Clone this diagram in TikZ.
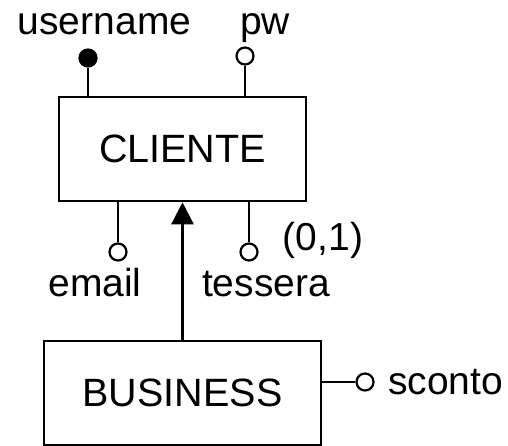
\documentclass[tikz,border=0pt]{standalone}
\usepackage{fontspec}
\setmainfont{Liberation Sans}
\usetikzlibrary{arrows.meta}
\begin{document}
\begin{tikzpicture}[x=1pt,y=-1pt,line width=2.6pt,
  entity/.style={draw,rectangle,minimum height=104pt,inner sep=0pt,font=\fontsize{39.5}{46}\selectfont},
  keyattr/.style={circle,draw,fill=black,minimum size=17pt,inner sep=0pt,line width=2.2pt},
  optattr/.style={circle,draw,fill=white,minimum size=17pt,inner sep=0pt,line width=2.2pt},
  lbl/.style={anchor=base,inner sep=0pt,font=\fontsize{39}{46}\selectfont}]
\useasboundingbox (0,0) rectangle (508,446);

% entities
\node[entity,minimum width=247pt] (C) at (182.5,149) {CLIENTE};
\node[entity,minimum width=277pt] (B) at (182.5,393) {BUSINESS};

% generalisation arrow
\draw[-{Triangle[length=22pt,width=22pt]}] (B.north) -- (C.south);

% attributes of CLIENTE
\node[keyattr] (ucirc) at (88,58) {};
\node[optattr] (pcirc) at (245,56) {};
\node[optattr] (ecirc) at (118,252) {};
\node[optattr] (tcirc) at (249,252) {};
\draw (ucirc) -- (ucirc |- C.north);
\draw (pcirc) -- (pcirc |- C.north);
\draw (ecirc) -- (ecirc |- C.south);
\draw (tcirc) -- (tcirc |- C.south);

\node[lbl] (uname) at (104.5,35) {username};
\node[lbl] (pw) at (265,35) {pw};
\node[lbl] (email) at (95,296) {email};
\node[lbl] (tess) at (266,296) {tessera};
\node[lbl] (card) at (323,250) {(0,1)};

% attribute of BUSINESS
\node[optattr] (scirc) at (365,382) {};
\draw (B.east |- scirc) -- (scirc);
\node[lbl,anchor=base west] (sconto) at (387,394) {sconto};
\end{tikzpicture}
\end{document}
